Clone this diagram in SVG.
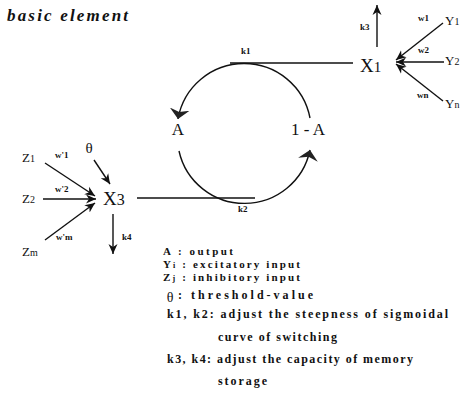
<svg xmlns="http://www.w3.org/2000/svg" width="470" height="394" viewBox="0 0 470 394">
<style>
.ln{stroke:#111;stroke-width:1.4;fill:none}
.sa{marker-end:url(#arr)}
.ba{marker-end:url(#big)}
text{font-family:'Liberation Serif','DejaVu Serif','Times New Roman',serif;fill:#111}
.node{font-size:19px}
.ac{font-size:17px}
.inp{font-size:13px}
.lab{font-size:9px;font-weight:bold}
.leg{font-size:12px;font-weight:bold}
.leg2{font-size:11px;font-weight:bold}
.ttl{font-size:17px;font-weight:bold;font-style:italic}
</style>
<defs>
<marker id="arr" markerUnits="userSpaceOnUse" viewBox="0 -5 11 10" markerWidth="11" markerHeight="10" refX="10" refY="0" orient="auto">
<path d="M0,-4.5 L10,0 L0,4.5 L3,0 z" fill="#111"/>
</marker>
<marker id="big" markerUnits="userSpaceOnUse" viewBox="0 -11 11 22" markerWidth="11" markerHeight="22" refX="10" refY="0" orient="auto">
<path d="M0,-10 L10,0 L0,10 L3,0 z" fill="#222"/>
</marker>
</defs>

<text class="ttl" x="7" y="21" textLength="121">basic element</text>

<g id="connectors">
<line class="ln" x1="230" y1="63" x2="353" y2="63"/>
<line class="ln" x1="137" y1="198" x2="255" y2="198"/>
<path class="ln ba" d="M244,63.5 A67,67 0 0 0 178,119"/>
<path class="ln" d="M244,63.5 A67,67 0 0 1 310,118"/>
<path class="ln ba" d="M179,151 A67,67 0 0 0 310,150"/>
<line class="ln sa" x1="377" y1="47" x2="377" y2="5"/>
<line class="ln sa" x1="443" y1="23" x2="396" y2="60"/>
<line class="ln sa" x1="444" y1="62" x2="396" y2="62"/>
<line class="ln sa" x1="443" y1="101" x2="396" y2="64"/>
<line class="ln sa" x1="45" y1="163" x2="95" y2="196"/>
<line class="ln sa" x1="43" y1="199" x2="96" y2="199"/>
<line class="ln sa" x1="45" y1="240" x2="95" y2="203"/>
<line class="ln sa" x1="94" y1="160" x2="110" y2="184"/>
<line class="ln sa" x1="113" y1="214" x2="113" y2="254"/>
</g>

<g id="edge-labels">
<text class="lab" x="241" y="54">k1</text>
<text class="lab" x="238" y="212">k2</text>
<text class="lab" x="360" y="30">k3</text>
<text class="lab" x="122" y="240">k4</text>
<text class="lab" x="418" y="21">w1</text>
<text class="lab" x="418" y="53">w2</text>
<text class="lab" x="417" y="98">wn</text>
<text class="lab" x="55" y="158">w'1</text>
<text class="lab" x="55" y="192">w'2</text>
<text class="lab" x="56" y="240">w'm</text>
</g>

<g id="X1"><text class="node" x="360" y="72">X<tspan font-size="15">1</tspan></text></g>
<g id="X3"><text class="node" x="103" y="205">X<tspan font-size="16">3</tspan></text></g>
<g id="A"><text class="ac" x="178" y="135" text-anchor="middle">A</text></g>
<g id="oneMinusA"><text class="ac" x="308" y="135" text-anchor="middle">1 - A</text></g>
<g id="Y1"><text class="inp" x="445" y="25">Y<tspan font-size="10">1</tspan></text></g>
<g id="Y2"><text class="inp" x="445" y="65">Y<tspan font-size="10">2</tspan></text></g>
<g id="Yn"><text class="inp" x="445" y="108">Y<tspan font-size="10">n</tspan></text></g>
<g id="Z1"><text class="inp" x="22" y="162">Z<tspan font-size="10">1</tspan></text></g>
<g id="Z2"><text class="inp" x="22" y="203">Z<tspan font-size="10">2</tspan></text></g>
<g id="Zm"><text class="inp" x="22" y="256">Z<tspan font-size="10">m</tspan></text></g>
<g id="theta"><text x="89" y="153" font-size="15" text-anchor="middle">θ</text></g>

<g id="legend">
<text class="leg2" x="163" y="255" textLength="70">A : output</text>
<text class="leg2" x="163" y="268" textLength="137">Y<tspan font-size="8">i</tspan> : excitatory input</text>
<text class="leg2" x="163" y="281" textLength="137">Z<tspan font-size="8">j</tspan> : inhibitory input</text>
<text x="170" y="302" font-size="14" text-anchor="middle">θ</text>
<text class="leg" x="178" y="299" textLength="135">: threshold-value</text>
<text class="leg" x="167" y="318" textLength="281">k1, k2: adjust the steepness of sigmoidal</text>
<text class="leg" x="218" y="341" textLength="119">curve of switching</text>
<text class="leg" x="167" y="363" textLength="246">k3, k4: adjust the capacity of memory</text>
<text class="leg" x="218" y="385" textLength="49">storage</text>
</g>
</svg>
